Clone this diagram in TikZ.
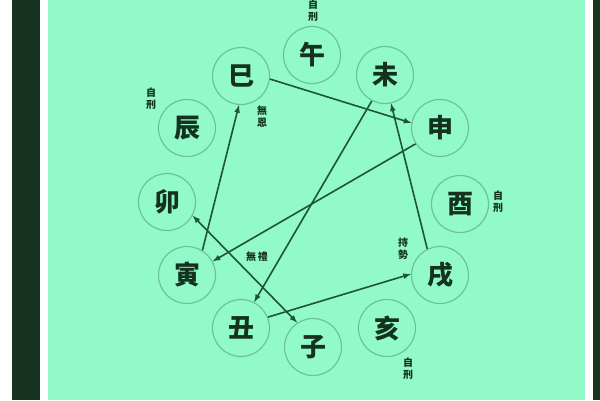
\documentclass[tikz,border=0pt]{standalone}
\usepackage{fontspec}
\usepackage{tikz}
\usetikzlibrary{arrows}
\newfontfamily\cjk{Noto Sans CJK TC}
\definecolor{mint}{RGB}{146,250,200}
\definecolor{ring}{RGB}{110,195,150}
\definecolor{ink}{RGB}{20,50,30}
\definecolor{wire}{RGB}{30,85,50}
\definecolor{frame}{RGB}{22,52,32}

\begin{document}
\begin{tikzpicture}[x=1pt,y=-1pt]
					\tikzstyle{branch}=[circle,draw=ring,line width=1.2pt,minimum size=57pt,inner sep=0pt,text=ink,font=\cjk\fontsize{26}{26}\selectfont\bfseries]
					\tikzstyle{note}=[align=center,inner sep=0pt,text=ink,font=\cjk\fontsize{10}{12}\selectfont\bfseries]
					\tikzstyle{link}=[draw=wire,line width=1.6pt,-latex]
					\useasboundingbox (0,0) rectangle (600,400);
					\fill[white] (0,0) rectangle (600,400);
					\fill[frame] (12,0) rectangle (40,400);
					\fill[mint] (48,0) rectangle (585,400);
					\fill[frame] (593,0) rectangle (600,400);
					\node[branch] (wu) at (312,55) {午};
					\node[branch] (si) at (241,76) {巳};
					\node[branch] (wei) at (385,75) {未};
					\node[branch] (chen) at (187,128) {辰};
					\node[branch] (shen) at (440,128) {申};
					\node[branch] (mao) at (167,202) {卯};
					\node[branch] (you) at (460,204) {酉};
					\node[branch] (yin) at (187,275) {寅};
					\node[branch] (xu) at (440,275) {戌};
					\node[branch] (chou) at (241,328) {丑};
					\node[branch] (zi) at (313,347) {子};
					\node[branch] (hai) at (387,328) {亥};
					\node[note] (n1) at (313,11) {自\\刑};
					\node[note] (n2) at (151,99) {自\\刑};
					\node[note] (n3) at (498,202) {自\\刑};
					\node[note] (n4) at (408,369) {自\\刑};
					\node[note] (n5) at (262,117) {無\\恩};
					\node[note] (n6) at (403,249) {持\\勢};
					\node[note] (n7) at (257,257) {無\,禮};
					\draw[link] (si.-6) -- (shen.170);
					\draw[link] (yin.58) -- (si.-94);
					\draw[link] (shen.-147) -- (yin.28);
					\draw[link] (wei.-117) -- (chou.63);
					\draw[link] (chou.22) -- (xu.178);
					\draw[link] (xu.116) -- (wei.-78);
					\draw[link,latex-latex] (mao.-28) -- (zi.123);
					\end{tikzpicture}
\end{document}
